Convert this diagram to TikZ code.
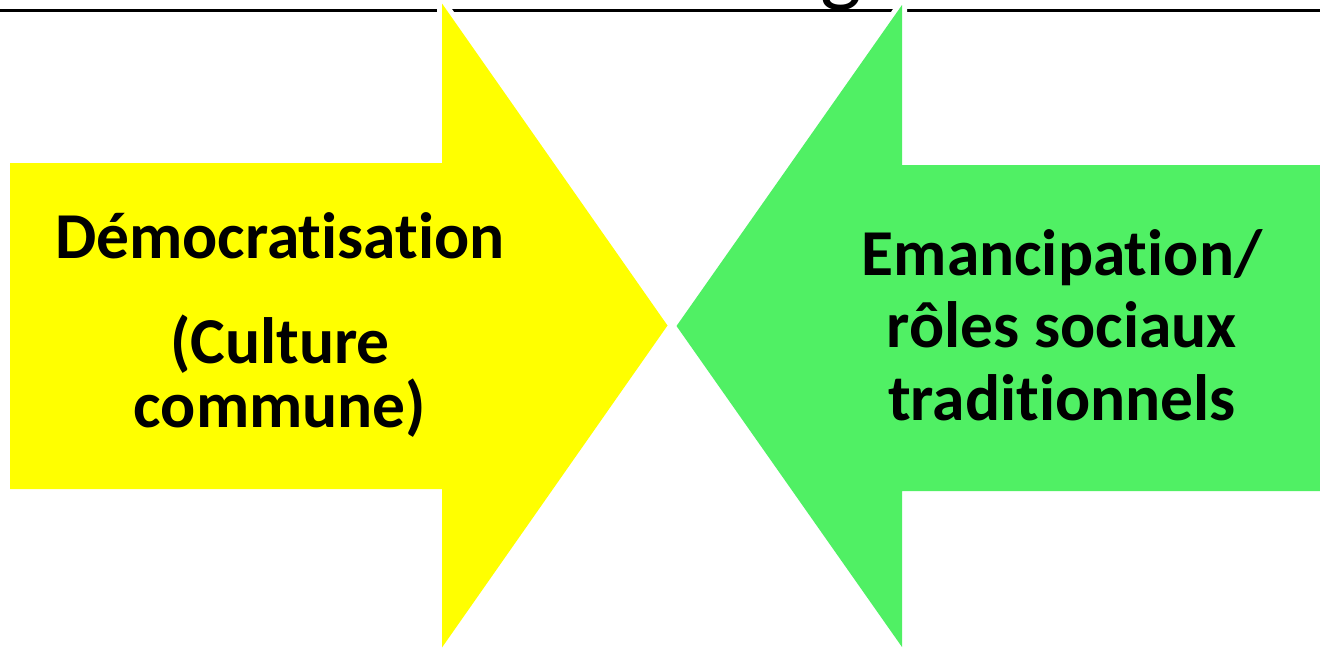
\documentclass[tikz,border=0pt]{standalone}
\usepackage{fontspec}
\setmainfont{Carlito}[Ligatures=NoCommon]
\definecolor{jaune}{RGB}{255,255,0}
\definecolor{vert}{RGB}{80,240,100}

\begin{document}
\begin{tikzpicture}[x=1pt,y=-1pt,
  lbl/.style={anchor=base,inner sep=0pt,font=\fontsize{65.5}{72}\selectfont\bfseries},
  fleche/.style={preaction={draw=white,line width=10pt,line join=miter}}]
\clip (0,0) rectangle (1320,649) ;
% titre coupe et filet
\node[anchor=south,inner sep=0pt,font=\fontsize{88}{100}\selectfont] (titre) at (841,11) {g} ;
\coordinate (fg) at (0,10.5) ;
\coordinate (fd) at (1320,10.5) ;
\draw[line width=2.5pt] (fg) -- (fd) ;
% fleche jaune
\fill[jaune,fleche] (10,163) -- (442,163) -- (442,3.5) -- (667.5,325.5) -- (442,647.5)
  -- (442,489) -- (10,489) -- cycle ;
% fleche verte
\fill[vert,fleche] (1330,165) -- (902,165) -- (902,5) -- (676.5,326) -- (902,647)
  -- (902,491) -- (1330,491) -- cycle ;
% textes
\node[lbl] (t1) at (280,258) {Démocratisation} ;
\node[lbl] (t2) at (280,363) {(Culture} ;
\node[lbl] (t3) at (280,427) {commune)} ;
\node[lbl] (t4) at (1062,275) {Emancipation/} ;
\node[lbl] (t5) at (1062,347) {rôles sociaux} ;
\node[lbl] (t6) at (1062,420) {traditionnels} ;
\end{tikzpicture}
\end{document}
